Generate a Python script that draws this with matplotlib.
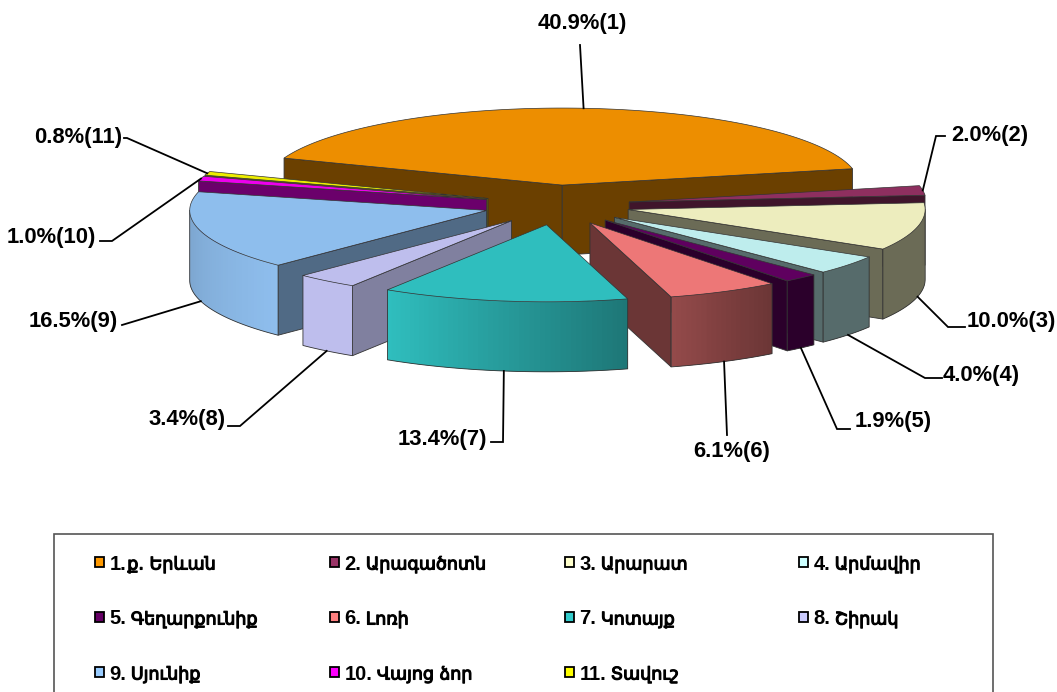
import re
import numpy as np
import matplotlib
matplotlib.use("Agg")
import matplotlib.pyplot as plt
import matplotlib.patheffects as pe
from matplotlib.patches import Polygon, Rectangle
from matplotlib.colors import to_rgb

# ---------- data ----------
regions = ["1.ք. Երևան", "2. Արագածոտն", "3. Արարատ", "4. Արմավիր",
           "5. Գեղարքունիք", "6. Լոռի", "7. Կոտայք", "8. Շիրակ",
           "9. Սյունիք", "10. Վայոց ձոր", "11. Տավուշ"]
shares = [40.9, 2.0, 10.0, 4.0, 1.9, 6.1, 13.4, 3.4, 16.5, 1.0, 0.8]

# ---------- style ----------
colors = ["#FF9900", "#993366", "#FFFFCC", "#CCFFFF", "#660066", "#FF8080",
          "#33CCCC", "#CCCCFF", "#99CCFF", "#FF00FF", "#FFFF00"]
FONT = ["Liberation Sans", "DejaVu Sans"]
plt.rcParams["font.family"] = FONT

W, H = 1057, 692
CX, CY = 557, 205        # centre of the un-exploded pie
A, B = 297, 77           # ellipse semi-axes
DEPTH = 70
EXPLODE_X, EXPLODE_Y = 73, 20
START = 159.5            # angle of the first slice edge, clockwise from here
draw_order = [0, 1, 10, 9, 2, 8, 3, 4, 7, 5, 6]
top_shade = 0.93
face_shade = {7: 0.625, 8: 0.52}
face_default = 0.42
wall_angles = [-230, -180, -135, -122, -74, -60, -52, 0]
wall_levels = [0.80, 0.80, 0.93, 0.93, 0.58, 0.47, 0.42, 0.42]
edge = "#333333"

# elbow and end of each leader line, and label anchor
leader_layout = [
    [(580, 45)],
    [(936, 136), (945, 136)],
    [(948, 327), (965, 327)],
    [(925, 378), (942, 378)],
    [(837, 429), (850, 429)],
    [(727, 435)],
    [(503, 442), (491, 442)],
    [(240, 426), (228, 426)],
    [(122, 325)],
    [(112, 241), (100, 241)],
    [(127, 138), (124, 138)],
]
label_layout = [
    (582, 24, "center"), (951, 135, "left"), (967, 322, "left"),
    (943, 375, "left"), (855, 422, "left"), (732, 451, "center"),
    (487, 439, "right"), (226, 420, "right"), (118, 321, "right"),
    (96, 237, "right"), (122, 138, "right"),
]
legend_cols = [95, 330, 565, 799]
legend_rows = [562, 617, 672]

fig = plt.figure(figsize=(W / 100, H / 100), dpi=100)
ax = fig.add_axes([0, 0, 1, 1])
ax.set_xlim(0, W)
ax.set_ylim(H, 0)
ax.axis("off")


def shade(c, f):
    return tuple(np.array(to_rgb(c)) * f)


def arc(c, t):
    t = np.radians(t)
    return c[0] + A * np.cos(t), c[1] - B * np.sin(t)


# slice angles from values
total = sum(shares)
edges = START - np.concatenate([[0], np.cumsum(shares)]) / total * 360
mids = (edges[:-1] + edges[1:]) / 2
centres = [(CX + EXPLODE_X * np.cos(np.radians(m)),
            CY - EXPLODE_Y * np.sin(np.radians(m))) for m in mids]

z = 2
for i in draw_order:
    ts, te, c = edges[i], edges[i + 1], centres[i]
    col = colors[i]
    fs = face_shade.get(i, face_default)
    # radial cut faces
    for ang, vis in ((ts, np.cos(np.radians(ts)) < 0), (te, np.cos(np.radians(te)) > 0)):
        if vis:
            x, y = arc(c, ang)
            ax.add_patch(Polygon([c, (x, y), (x, y + DEPTH), (c[0], c[1] + DEPTH)],
                                 closed=True, fc=shade(col, fs), ec=edge, lw=0.6, zorder=z))
            z += 1
    # outer wall (only the part facing the viewer), banded gradient by angle
    a0, a1 = max(te, -180), min(ts, 0)
    if a1 > a0:
        n = max(2, int(a1 - a0))
        tt = np.linspace(a0, a1, n + 1)
        for p, q in zip(tt[:-1], tt[1:]):
            lev = np.interp((p + q) / 2, wall_angles, wall_levels)
            q2 = min(q + 1.0, a1)          # overlap the next band so no seams show
            xp, yp = arc(c, p)
            xq, yq = arc(c, q2)
            ax.add_patch(Polygon([(xp, yp), (xq, yq), (xq, yq + DEPTH), (xp, yp + DEPTH)],
                                 closed=True, fc=shade(col, lev), ec="none", lw=0, zorder=z))
            z += 0.001
        xs, ys = arc(c, tt)
        ax.plot(np.r_[xs[0], xs, xs[-1]], np.r_[ys[0], ys + DEPTH, ys[-1]],
                color=edge, lw=0.6, zorder=z + 0.5, solid_joinstyle="round")
        z = int(z) + 1
    # top
    tt = np.linspace(ts, te, max(3, int(ts - te) * 2))
    xs, ys = arc(c, tt)
    ax.add_patch(Polygon(np.r_[[c], np.c_[xs, ys]], closed=True,
                         fc=shade(col, top_shade), ec=edge, lw=0.5, zorder=z))
    z += 1

# leader lines and labels
z = 200
for i, (m, c) in enumerate(zip(mids, centres)):
    x0, y0 = arc(c, m)
    if np.sin(np.radians(m)) < -0.2:
        y0 += DEPTH
    pts = [(x0, y0)] + leader_layout[i]
    ax.plot(*zip(*pts), color="black", lw=1.3, zorder=z, solid_joinstyle="miter")
    lx, ly, ha = label_layout[i]
    ax.text(lx, ly, f"{shares[i]:.1f}%({i + 1})", ha=ha, va="center", fontsize=15.8,
            fontweight="bold", color="black", zorder=z)

# legend: bold Latin number, then the Armenian name right after it
ax.add_patch(Rectangle((53.5, 534), 939.5, 170, fc="white", ec="#555555", lw=1.2,
                       zorder=z, clip_on=True))
renderer = fig.canvas.get_renderer()
for i, name in enumerate(regions):
    r, k = divmod(i, 4)
    x, y = legend_cols[k], legend_rows[r]
    ax.add_patch(Rectangle((x, y - 5), 9, 9.5, fc=colors[i], ec="black", lw=1.3, zorder=z + 1))
    num, gap, rest = re.match(r"(\d+\.)( ?)(.*)", name).groups()
    t = ax.text(x + 14.5, y + 7.5, num, ha="left", va="baseline", fontsize=14.5,
                fontweight="bold", color="black", zorder=z + 1)
    right = t.get_window_extent(renderer).x1
    ax.text(right + (4.5 if gap else 1), y + 7.5, rest, ha="left", va="baseline",
            fontsize=12.6, fontweight="normal", family=["DejaVu Sans"], color="black",
            zorder=z + 1, path_effects=[pe.withStroke(linewidth=0.8, foreground="black")])

fig.savefig("out.png", dpi=100)
